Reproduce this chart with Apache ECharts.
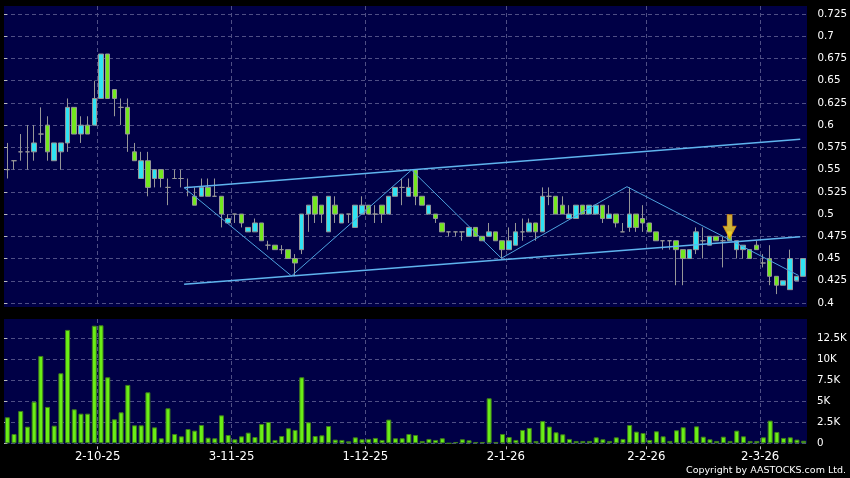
<!DOCTYPE html>
<html>
<head>
<meta charset="utf-8">
<title>Daily chart</title>
<script src="https://cdn.jsdelivr.net/npm/echarts@6/dist/echarts.min.js"></script>
<style>
  html, body { margin: 0; padding: 0; background: #000; }
  #main { width: 850px; height: 478px; }
</style>
</head>
<body>
<div id="main"></div>
<script>
// trading days, d-m-yy
var days = [
  '12-9-25', '15-9-25', '16-9-25', '17-9-25', '18-9-25', '19-9-25', '22-9-25', '23-9-25', '24-9-25', '25-9-25',
  '26-9-25', '29-9-25', '30-9-25',
  '2-10-25', '3-10-25', '6-10-25', '8-10-25', '9-10-25', '10-10-25', '13-10-25', '14-10-25', '15-10-25', '16-10-25',
  '17-10-25', '20-10-25', '21-10-25', '22-10-25', '23-10-25', '24-10-25', '27-10-25', '28-10-25', '30-10-25', '31-10-25',
  '3-11-25', '4-11-25', '5-11-25', '6-11-25', '7-11-25', '10-11-25', '11-11-25', '12-11-25', '13-11-25', '14-11-25',
  '17-11-25', '18-11-25', '19-11-25', '20-11-25', '21-11-25', '24-11-25', '25-11-25', '26-11-25', '27-11-25', '28-11-25',
  '1-12-25', '2-12-25', '3-12-25', '4-12-25', '5-12-25', '8-12-25', '9-12-25', '10-12-25', '11-12-25', '12-12-25',
  '15-12-25', '16-12-25', '17-12-25', '18-12-25', '19-12-25', '22-12-25', '23-12-25', '24-12-25', '29-12-25', '30-12-25',
  '31-12-25',
  '2-1-26', '5-1-26', '6-1-26', '7-1-26', '8-1-26', '9-1-26', '12-1-26', '13-1-26', '14-1-26', '15-1-26',
  '16-1-26', '19-1-26', '20-1-26', '21-1-26', '22-1-26', '23-1-26', '26-1-26', '27-1-26', '28-1-26', '29-1-26',
  '30-1-26',
  '2-2-26', '3-2-26', '4-2-26', '5-2-26', '6-2-26', '9-2-26', '10-2-26', '11-2-26', '12-2-26', '13-2-26',
  '16-2-26', '20-2-26', '23-2-26', '24-2-26', '25-2-26', '26-2-26', '27-2-26',
  '2-3-26', '3-3-26', '4-3-26', '5-3-26', '6-3-26', '9-3-26', '10-3-26', '11-3-26'
];

var opens = [
  0.55, 0.56, 0.57, 0.57, 0.57, 0.59, 0.60, 0.56, 0.57, 0.58,
  0.62, 0.59, 0.60, 0.60, 0.63, 0.68, 0.64, 0.62, 0.62, 0.57,
  0.54, 0.56, 0.54, 0.55, 0.53, 0.54, 0.54, 0.53, 0.52, 0.52,
  0.53, 0.52, 0.52, 0.49, 0.50, 0.50, 0.48, 0.48, 0.49, 0.465,
  0.465, 0.46, 0.46, 0.45, 0.46, 0.50, 0.52, 0.51, 0.48, 0.51,
  0.49, 0.50, 0.485, 0.50, 0.51, 0.50, 0.51, 0.50, 0.52, 0.53,
  0.52, 0.55, 0.52, 0.50, 0.50, 0.49, 0.48, 0.48, 0.48, 0.475,
  0.485, 0.475, 0.475, 0.48, 0.47, 0.46, 0.465, 0.48, 0.48, 0.49,
  0.48, 0.52, 0.52, 0.51, 0.495, 0.495, 0.51, 0.50, 0.50, 0.51,
  0.495, 0.50, 0.48, 0.485, 0.50, 0.495, 0.49, 0.48, 0.47, 0.47,
  0.47, 0.46, 0.45, 0.46, 0.47, 0.465, 0.475, 0.47, 0.48, 0.46,
  0.46, 0.46, 0.465, 0.445, 0.45, 0.43, 0.42, 0.415, 0.425, 0.43
];
var closes = [
  0.55, 0.56, 0.57, 0.57, 0.58, 0.59, 0.57, 0.58, 0.58, 0.62,
  0.59, 0.60, 0.59, 0.63, 0.68, 0.63, 0.63, 0.62, 0.59, 0.56,
  0.56, 0.53, 0.55, 0.54, 0.53, 0.54, 0.54, 0.53, 0.51, 0.53,
  0.52, 0.52, 0.50, 0.495, 0.50, 0.49, 0.485, 0.49, 0.47, 0.465,
  0.46, 0.46, 0.45, 0.445, 0.50, 0.51, 0.50, 0.50, 0.52, 0.50,
  0.50, 0.50, 0.51, 0.51, 0.50, 0.50, 0.50, 0.52, 0.53, 0.53,
  0.53, 0.52, 0.51, 0.51, 0.495, 0.48, 0.48, 0.48, 0.48, 0.485,
  0.475, 0.47, 0.48, 0.47, 0.46, 0.47, 0.48, 0.48, 0.49, 0.48,
  0.52, 0.52, 0.50, 0.50, 0.50, 0.51, 0.50, 0.51, 0.51, 0.495,
  0.50, 0.49, 0.48, 0.50, 0.485, 0.49, 0.48, 0.47, 0.47, 0.47,
  0.46, 0.45, 0.46, 0.48, 0.47, 0.475, 0.47, 0.47, 0.47, 0.47,
  0.465, 0.45, 0.46, 0.445, 0.43, 0.42, 0.425, 0.45, 0.43, 0.45
];
var lows = [
  0.54, 0.55, 0.56, 0.55, 0.56, 0.58, 0.56, 0.56, 0.55, 0.57,
  0.59, 0.58, 0.59, 0.60, 0.63, 0.63, 0.61, 0.60, 0.57, 0.56,
  0.54, 0.52, 0.53, 0.53, 0.51, 0.54, 0.53, 0.52, 0.51, 0.52,
  0.52, 0.52, 0.485, 0.49, 0.49, 0.485, 0.48, 0.48, 0.47, 0.46,
  0.46, 0.455, 0.45, 0.43, 0.455, 0.48, 0.49, 0.49, 0.48, 0.49,
  0.49, 0.49, 0.485, 0.50, 0.50, 0.49, 0.49, 0.50, 0.52, 0.51,
  0.52, 0.51, 0.51, 0.50, 0.49, 0.48, 0.475, 0.475, 0.47, 0.475,
  0.475, 0.47, 0.475, 0.47, 0.45, 0.46, 0.465, 0.47, 0.48, 0.47,
  0.48, 0.51, 0.50, 0.50, 0.495, 0.495, 0.50, 0.50, 0.50, 0.49,
  0.495, 0.485, 0.48, 0.48, 0.48, 0.48, 0.48, 0.47, 0.46, 0.46,
  0.42, 0.42, 0.45, 0.455, 0.45, 0.465, 0.47, 0.44, 0.47, 0.45,
  0.45, 0.45, 0.46, 0.44, 0.42, 0.41, 0.42, 0.415, 0.425, 0.43
];
var highs = [
  0.58, 0.56, 0.59, 0.60, 0.60, 0.62, 0.61, 0.58, 0.58, 0.63,
  0.62, 0.61, 0.61, 0.65, 0.68, 0.68, 0.64, 0.63, 0.63, 0.58,
  0.57, 0.57, 0.55, 0.55, 0.54, 0.55, 0.55, 0.54, 0.53, 0.54,
  0.54, 0.54, 0.52, 0.50, 0.50, 0.50, 0.485, 0.495, 0.49, 0.47,
  0.465, 0.465, 0.46, 0.455, 0.50, 0.51, 0.52, 0.51, 0.52, 0.52,
  0.50, 0.50, 0.51, 0.52, 0.51, 0.51, 0.51, 0.52, 0.53, 0.54,
  0.54, 0.55, 0.52, 0.51, 0.50, 0.49, 0.48, 0.48, 0.48, 0.485,
  0.485, 0.475, 0.49, 0.48, 0.47, 0.485, 0.49, 0.495, 0.495, 0.49,
  0.53, 0.53, 0.52, 0.52, 0.51, 0.51, 0.51, 0.51, 0.51, 0.51,
  0.51, 0.50, 0.49, 0.53, 0.50, 0.51, 0.49, 0.48, 0.47, 0.47,
  0.47, 0.46, 0.46, 0.485, 0.485, 0.475, 0.475, 0.475, 0.48, 0.47,
  0.465, 0.46, 0.47, 0.455, 0.465, 0.43, 0.425, 0.46, 0.43, 0.45
];
var volumes = [
  3100, 1110, 3850, 1985, 4960, 10400, 4330, 2100, 8340, 13500,
  4050, 3530, 3530, 14000, 14050, 7860, 2860, 3690, 6950, 2140,
  2140, 6070, 1900, 600, 4170, 1110, 830, 1700, 1510, 2180,
  670, 600, 3330, 990, 480, 830, 1270, 750, 2300, 2540,
  400, 870, 1790, 1590, 7860, 2500, 870, 950, 2060, 440,
  400, 240, 710, 480, 520, 640, 400, 2820, 600, 600,
  1110, 990, 280, 520, 400, 600, 0, 160, 480, 360,
  160, 160, 5360, 160, 1110, 750, 400, 1590, 1830, 280,
  2660, 1990, 1310, 1070, 520, 280, 280, 280, 710, 480,
  280, 710, 520, 2180, 1390, 1230, 400, 1430, 830, 280,
  1550, 1910, 280, 2020, 790, 480, 280, 790, 280, 1510,
  830, 280, 280, 710, 2700, 1350, 640, 710, 440, 300
];

// first trading day of each month shown under the volume panel
var tickDays = ['2-10-25', '3-11-25', '1-12-25', '2-1-26', '2-2-26', '2-3-26'];

// drawn trend lines, x in day units (0 = left edge of first day)
var channelTop = [[26.94, 0.5297], [119.06, 0.5841]];
var channelBottom = [[26.94, 0.4210], [119.06, 0.4746]];
var zigzag = [[26.94, 0.5297], [42.99, 0.4304], [60.93, 0.5496], [74.38, 0.4503], [93.15, 0.5308], [118.8, 0.431]];
// signal arrow: day index and price level
var arrowMark = [[108, 0.4858]];

var upColor = '#2fe3f3';
var downColor = '#72e81e';
var wickColor = '#979797';
var plotBg = '#000046';
var gridLine = { color: '#4f4f85', width: 1, type: [4, 3] };
var font = 'DejaVu Sans';

var boundaries = tickDays.map(function (d) { return days.indexOf(d) + 1; });
var candles = opens.map(function (o, i) { return [o, closes[i], lows[i], highs[i]]; });

function onBoundary(idx) { return boundaries.indexOf(idx) >= 0; }
function volLabel(v) { return v === 0 ? '0' : (v / 1000) + 'K'; }

function splitAxis(gridIndex) {
  return {
    type: 'category', gridIndex: gridIndex, data: days, boundaryGap: true,
    axisLine: { show: false }, axisTick: { show: false }, axisLabel: { show: false },
    splitLine: { show: true, interval: onBoundary, showMaxLine: false, lineStyle: gridLine }
  };
}

var myChart = echarts.init(document.getElementById('main'));
myChart.setOption({
  animation: false,
  backgroundColor: '#000',
  grid: [
    { left: 4, right: 43, top: 14, height: 289 },
    { left: 4, right: 43, top: 338.3, height: 105 },
    { left: 4, right: 43, top: 6, height: 301, show: true, backgroundColor: plotBg, borderWidth: 0 },
    { left: 4, right: 43, top: 319, height: 125, show: true, backgroundColor: plotBg, borderWidth: 0 }
  ],
  xAxis: [
    { type: 'category', gridIndex: 0, data: days, boundaryGap: true, show: false },
    { type: 'category', gridIndex: 1, data: days, boundaryGap: true, show: false, position: 'bottom' },
    splitAxis(2),
    splitAxis(3),
    {
      type: 'value', gridIndex: 1, min: 0, max: 120, position: 'bottom', offset: 3,
      axisLine: { show: false },
      axisTick: { show: true, length: 3, customValues: boundaries, lineStyle: { color: '#bbbbbb' } },
      axisLabel: {
        customValues: boundaries, margin: 5, color: '#ffffff', fontFamily: font, fontSize: 11.7,
        formatter: function (v) { var k = boundaries.indexOf(v); return k >= 0 ? tickDays[k] : ''; }
      },
      splitLine: { show: false }
    },
    { type: 'value', gridIndex: 0, min: 0, max: 120, show: false }
  ],
  yAxis: [
    {
      type: 'value', gridIndex: 0, position: 'right', offset: 4,
      min: 0.4, max: 0.725, interval: 0.025,
      axisLine: { show: false },
      axisTick: { show: true, length: 3, lineStyle: { color: '#bbbbbb' } },
      axisLabel: { margin: 7, color: '#ffffff', fontFamily: font, fontSize: 10.3 },
      splitLine: { show: true, lineStyle: gridLine }
    },
    {
      type: 'value', gridIndex: 1, position: 'right', offset: 4,
      min: 0, max: 12500, interval: 2500,
      axisLine: { show: false },
      axisTick: { show: true, length: 3, lineStyle: { color: '#bbbbbb' } },
      axisLabel: { margin: 6, color: '#ffffff', fontFamily: font, fontSize: 10.3, formatter: volLabel },
      splitLine: { show: true, lineStyle: gridLine }
    },
    { type: 'value', gridIndex: 2, min: 0, max: 1, show: false },
    { type: 'value', gridIndex: 3, min: 0, max: 1, show: false }
  ],
  series: [
    {
      name: 'price', type: 'candlestick', xAxisIndex: 0, yAxisIndex: 0,
      data: candles, barWidth: 5,
      itemStyle: {
        color: upColor, color0: downColor,
        borderColor: wickColor, borderColor0: wickColor, borderColorDoji: wickColor,
        borderWidth: 1
      }
    },
    {
      name: 'volume', type: 'bar', xAxisIndex: 1, yAxisIndex: 1,
      data: volumes, barWidth: 5, clip: false,
      itemStyle: { color: '#6aee16', borderColor: '#3f7d1c', borderWidth: 1 }
    },
    {
      name: 'channel top', type: 'line', xAxisIndex: 5, yAxisIndex: 0, data: channelTop,
      symbol: 'none', silent: true, z: 4, lineStyle: { color: '#5fb4ee', width: 1.5 }
    },
    {
      name: 'channel bottom', type: 'line', xAxisIndex: 5, yAxisIndex: 0, data: channelBottom,
      symbol: 'none', silent: true, z: 4, lineStyle: { color: '#5fb4ee', width: 1.5 }
    },
    {
      name: 'zigzag', type: 'line', xAxisIndex: 5, yAxisIndex: 0, data: zigzag,
      symbol: 'none', silent: true, z: 4, lineStyle: { color: '#4ea2de', width: 1 }
    },
    {
      name: 'signal', type: 'scatter', xAxisIndex: 0, yAxisIndex: 0, data: arrowMark,
      symbol: 'path://M4,0 L9,0 L9,11 L13,11 L6.5,23 L0,11 L4,11 Z',
      symbolSize: [13, 24], silent: true, z: 5,
      itemStyle: {
        color: new echarts.graphic.LinearGradient(0, 0, 0, 1, [
          { offset: 0, color: '#ffd23c' },
          { offset: 0.5, color: '#ffe23a' },
          { offset: 1, color: '#ffc400' }
        ]),
        borderColor: '#e08a00', borderWidth: 0.8
      }
    }
  ],
  graphic: [
    {
      type: 'text', right: 4, top: 466,
      style: { text: 'Copyright by AASTOCKS.com Ltd.', fill: '#ffffff', font: '9.5px "DejaVu Sans"' }
    }
  ]
});
window.onresize = function () { myChart.resize(); };
</script>
</body>
</html>
